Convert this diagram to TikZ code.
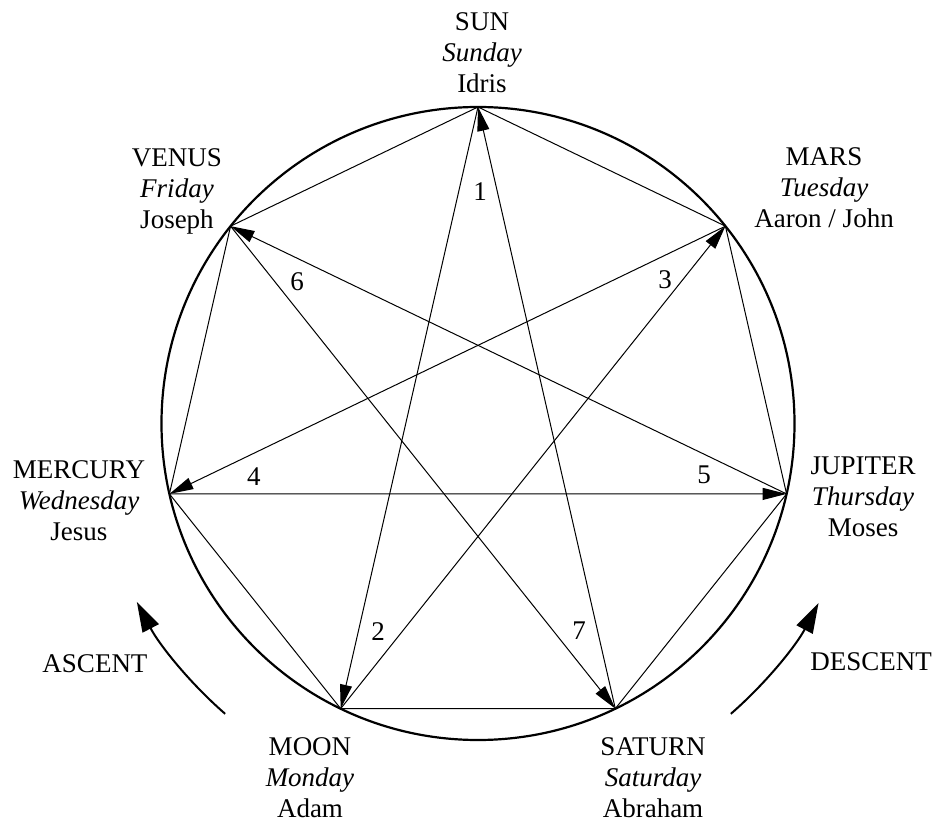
\documentclass[tikz,border=0pt]{standalone}
\usepackage{fontspec}
\setmainfont{LiberationSerif}[Extension=.ttf, UprightFont=*-Regular, ItalicFont=*-Italic, BoldFont=*-Bold, BoldItalicFont=*-BoldItalic]
\usepackage{tikz}
\usetikzlibrary{arrows.meta, positioning}

\newcommand{\labelfont}{\fontsize{13.5}{15.5}\selectfont}

\begin{document}
\begin{tikzpicture}[x=0.5pt, y=0.5pt,
    planet/.style={anchor=north, align=center, inner sep=0pt, font=\labelfont},
    num/.style={inner sep=0pt, font=\labelfont},
    edge/.style={draw, line width=0.5pt},
    day/.style={draw, line width=0.5pt, -{Triangle[length=12pt, width=6pt]}},
    turn/.style={draw, line width=1pt, -{Triangle[length=15pt, width=9pt]}}
]
    \useasboundingbox (-478,-399.5) rectangle (462,423.5);

    % Circle and planets
    \coordinate (c) at (0,0);
    \draw[line width=1.1pt] (c) circle[radius=316.5];
    \foreach \p [count=\i] in {sun,mars,jupiter,saturn,moon,mercury,venus}
        \coordinate (\p) at ({90-(\i-1)*360/7}:316.5);

    % Heptagon
    \draw[edge] (sun) -- (mars) -- (jupiter) -- (saturn) -- (moon) -- (mercury) -- (venus) -- cycle;

    % Order of the days
    \foreach \a/\b in {sun/moon, moon/mars, mars/mercury, mercury/jupiter, jupiter/venus, venus/saturn, saturn/sun}
        \draw[day] (\a) -- (\b);

    \node[num] (n1) at (2,231.5) {1};
    \node[num] (n2) at (-100,-208.5) {2};
    \node[num] (n3) at (187,143.5) {3};
    \node[num] (n4) at (-224,-53.5) {4};
    \node[num] (n5) at (226,-51.5) {5};
    \node[num] (n6) at (-181,141.5) {6};
    \node[num] (n7) at (101,-207.5) {7};

    % Labels
    \node[planet] (sunlbl) at (4,411.5) {SUN\\\textit{Sunday}\\Idris};
    \node[planet] (marslbl) at (346,276) {MARS\\\textit{Tuesday}\\Aaron / John};
    \node[planet] (jupiterlbl) at (385,-32.5) {JUPITER\\\textit{Thursday}\\Moses};
    \node[planet] (saturnlbl) at (175,-313.5) {SATURN\\\textit{Saturday}\\Abraham};
    \node[planet] (moonlbl) at (-168,-313.5) {MOON\\\textit{Monday}\\Adam};
    \node[planet] (mercurylbl) at (-399,-36.5) {MERCURY\\\textit{Wednesday}\\Jesus};
    \node[planet] (venuslbl) at (-301,275.5) {VENUS\\\textit{Friday}\\Joseph};

    % Ascent / descent
    \coordinate (asc) at (228.95:385);
    \coordinate (desc) at (-48.95:385);
    \draw[turn] (asc) arc[start angle=228.95, end angle=207.6, radius=385];
    \draw[turn] (desc) arc[start angle=-48.95, end angle=-27.8, radius=385];
    \node[planet] (ascent) at (-383,-230.5) {ASCENT};
    \node[planet] (descent) at (393,-228.5) {DESCENT};

\end{tikzpicture}
\end{document}
